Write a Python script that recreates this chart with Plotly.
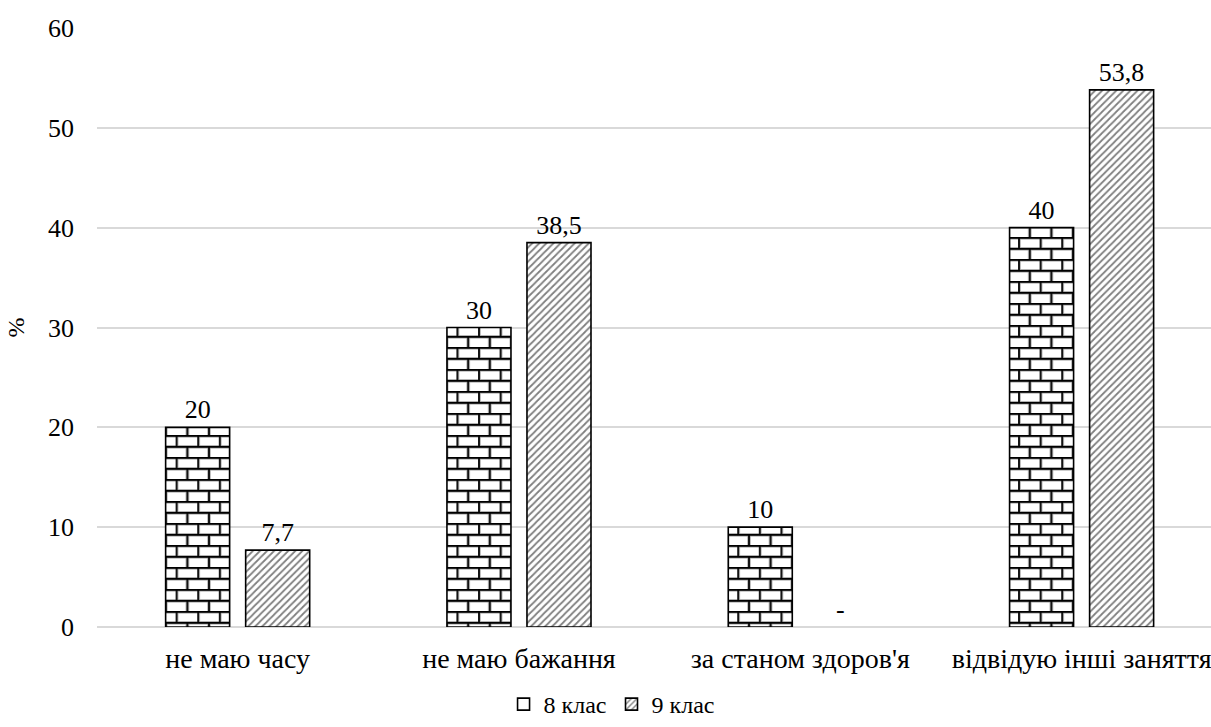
import plotly.graph_objects as go

categories = ["не маю часу", "не маю бажання", "за станом здоров'я", "відвідую інші заняття"]
grade8 = [20, 30, 10, 40]
grade9 = [7.7, 38.5, 0, 53.8]
grade8_text = ["20", "30", "10", "40"]
grade9_text = ["7,7", "38,5", "-", "53,8"]
y_ticks = [0, 10, 20, 30, 40, 50, 60]

FONT = "Liberation Serif"

# no outline on an empty (zero-height) bar
grade9_outline = [0 if v == 0 else 1.6 for v in grade9]

fig = go.Figure()
fig.add_trace(go.Bar(
    name="8 клас", x=categories, y=grade8, text=grade8_text,
    textposition="outside", cliponaxis=False,
    textfont=dict(family=FONT, size=26, color="black"),
    marker=dict(color="white", line=dict(color="black", width=1.6)),
))
fig.add_trace(go.Bar(
    name="9 клас", x=categories, y=grade9, text=grade9_text,
    textposition="outside", cliponaxis=False,
    textfont=dict(family=FONT, size=26, color="black"),
    marker=dict(color="white", line=dict(color="black", width=grade9_outline),
                pattern=dict(shape="/", fgcolor="black", bgcolor="white",
                             size=5, solidity=0.35)),
))

fig.update_layout(
    width=1211, height=727,
    margin=dict(l=97, r=0, t=28, b=100),
    paper_bgcolor="white", plot_bgcolor="white",
    font=dict(family=FONT, size=26, color="black"),
    barmode="group", bargap=0.431, bargroupgap=0.2,
    showlegend=True,
    legend=dict(orientation="h", xref="container", x=0.505, xanchor="center",
                yref="container", y=0, yanchor="bottom",
                font=dict(family=FONT, size=24, color="black"),
                itemwidth=30),
)
fig.update_xaxes(range=[-0.5, 3.46], showgrid=False, showline=False,
                 ticks="", ticklabelstandoff=12,
                 tickfont=dict(family=FONT, size=28, color="black"))
fig.update_yaxes(range=[0, 60], tickvals=y_ticks, showgrid=True,
                 gridcolor="#d9d9d9", gridwidth=1.5, zeroline=True,
                 zerolinecolor="#d9d9d9", zerolinewidth=1.5,
                 ticks="", ticklabelstandoff=22,
                 tickfont=dict(family=FONT, size=26, color="black"),
                 title=dict(text="%", font=dict(family=FONT, size=24, color="black"),
                            standoff=16))

# Brick fill for the "8 клас" bars, defined as an SVG pattern and applied after rendering
brick_js = """
(function(){
  var gd = document.getElementById('{plot_id}');
  function applyBricks(){
    var svg = gd.querySelector('svg.main-svg');
    if(!svg) return;
    var ns = 'http://www.w3.org/2000/svg';
    var defs = svg.querySelector('defs');
    if(!defs){ defs = document.createElementNS(ns,'defs'); svg.insertBefore(defs, svg.firstChild); }
    if(!svg.querySelector('#brickfill')){
      var p = document.createElementNS(ns,'pattern');
      p.setAttribute('id','brickfill');
      p.setAttribute('patternUnits','userSpaceOnUse');
      p.setAttribute('width','21.6'); p.setAttribute('height','22');
      p.setAttribute('x','165'); p.setAttribute('y','627');
      var bg = document.createElementNS(ns,'rect');
      bg.setAttribute('width','21.6'); bg.setAttribute('height','22'); bg.setAttribute('fill','white');
      p.appendChild(bg);
      var d = 'M0,0.8H21.6M0,11.8H21.6M1,0.8V11.8M11.8,11.8V22.8';
      var sh = document.createElementNS(ns,'path');
      sh.setAttribute('d', d); sh.setAttribute('stroke','#9a9a9a'); sh.setAttribute('stroke-width','3.2'); sh.setAttribute('fill','none');
      p.appendChild(sh);
      var ln = document.createElementNS(ns,'path');
      ln.setAttribute('d', d); ln.setAttribute('stroke','black'); ln.setAttribute('stroke-width','1.7'); ln.setAttribute('fill','none');
      p.appendChild(ln);
      defs.appendChild(p);
    }
    var traces = gd.querySelectorAll('.barlayer .trace.bars');
    if(traces.length){
      traces[0].querySelectorAll('path').forEach(function(el){
        el.style.fill = 'url(#brickfill)';
      });
    }
  }
  applyBricks();
  gd.on && gd.on('plotly_afterplot', applyBricks);
})();
"""

fig.write_html("out.html", post_script=brick_js)
